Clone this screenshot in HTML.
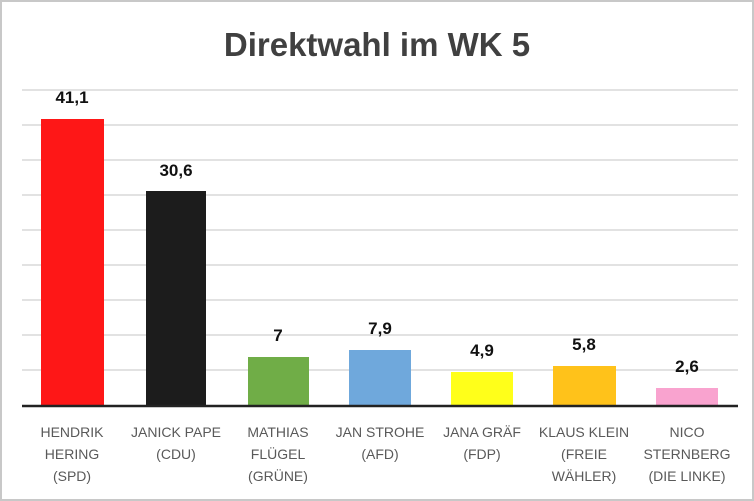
<!DOCTYPE html>
<html><head><meta charset="utf-8"><style>
body{margin:0;background:#fff}
svg{display:block}
text{font-family:"Liberation Sans",sans-serif}
</style></head><body>
<svg width="754" height="501" viewBox="0 0 754 501">
<rect x="1" y="1" width="752" height="499" fill="#fff" stroke="#c8c8c8" stroke-width="2"/>
<text x="377" y="56" text-anchor="middle" font-size="33" font-weight="bold" fill="#404040">Direktwahl im WK 5</text>
<g stroke="#d0d0d0" stroke-width="1.3">
<line x1="22" y1="90" x2="738" y2="90"/><line x1="22" y1="125" x2="738" y2="125"/>
<line x1="22" y1="160" x2="738" y2="160"/><line x1="22" y1="195" x2="738" y2="195"/>
<line x1="22" y1="230" x2="738" y2="230"/><line x1="22" y1="265" x2="738" y2="265"/>
<line x1="22" y1="300" x2="738" y2="300"/><line x1="22" y1="335" x2="738" y2="335"/>
<line x1="22" y1="370" x2="738" y2="370"/>
</g>
<rect x="41" y="119" width="63" height="287" fill="#fe1717"/>
<rect x="146" y="191" width="60" height="215" fill="#1c1c1c"/>
<rect x="248" y="357" width="61" height="49" fill="#70ad47"/>
<rect x="349" y="350" width="62" height="56" fill="#6fa8dc"/>
<rect x="451" y="372" width="62" height="34" fill="#ffff1a"/>
<rect x="553" y="366" width="63" height="40" fill="#ffc21a"/>
<rect x="656" y="388" width="62" height="18" fill="#f9a3cf"/>
<line x1="22" y1="406" x2="738" y2="406" stroke="#222" stroke-width="2.5"/>
<g font-size="17" font-weight="bold" fill="#111" text-anchor="middle">
<text x="72" y="103">41,1</text>
<text x="176" y="176">30,6</text>
<text x="278" y="341">7</text>
<text x="380" y="334">7,9</text>
<text x="482" y="356">4,9</text>
<text x="584" y="350">5,8</text>
<text x="687" y="372">2,6</text>
</g>
<g font-size="14" fill="#595959" text-anchor="middle">
<text x="72" y="437">HENDRIK</text><text x="72" y="459">HERING</text><text x="72" y="481">(SPD)</text>
<text x="176" y="437">JANICK PAPE</text><text x="176" y="459">(CDU)</text>
<text x="278" y="437">MATHIAS</text><text x="278" y="459">FLÜGEL</text><text x="278" y="481">(GRÜNE)</text>
<text x="380" y="437">JAN STROHE</text><text x="380" y="459">(AFD)</text>
<text x="482" y="437">JANA GRÄF</text><text x="482" y="459">(FDP)</text>
<text x="584" y="437">KLAUS KLEIN</text><text x="584" y="459">(FREIE</text><text x="584" y="481">WÄHLER)</text>
<text x="687" y="437">NICO</text><text x="687" y="459">STERNBERG</text><text x="687" y="481">(DIE LINKE)</text>
</g>
</svg>
</body></html>
